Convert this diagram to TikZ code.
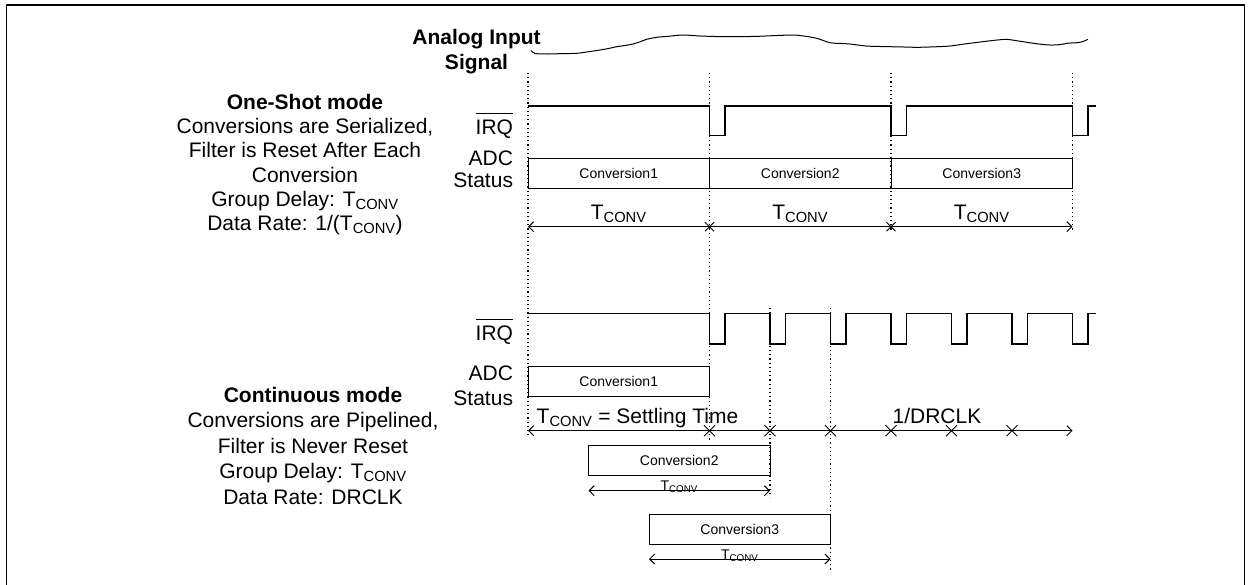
\documentclass[tikz,border=0pt]{standalone}
\usepackage{fontspec}
\setmainfont{Liberation Sans}
\usetikzlibrary{arrows.meta,shapes.misc}

\begin{document}
\begin{tikzpicture}[x=1pt, y=-1pt,
  lbl/.style={inner sep=0, outer sep=0, font=\fontsize{21}{24}\selectfont},
  small/.style={inner sep=0, outer sep=0, font=\fontsize{14}{14}\selectfont},
  conv/.style={draw, line width=1pt, inner sep=0, outer sep=0, minimum width=181.5pt, minimum height=30pt, font=\fontsize{14}{14}\selectfont},
  wave/.style={line width=1.1pt},
  guide/.style={line width=1.2pt, dash pattern=on 1.1pt off 3.1pt},
  span/.style={line width=1pt, {Straight Barb[length=5pt,width=10pt]}-{Straight Barb[length=5pt,width=10pt]}},
  tick/.style={draw, cross out, line width=0.9pt, inner sep=0, outer sep=0, minimum size=9pt}
]
  \useasboundingbox (0,0) rectangle (1251,584);
  \draw[line width=1.5pt] (6.7,600) -- (6.7,5) -- (1244.5,5) -- (1244.5,600);

  % Analog input
  \node[lbl, align=center, font=\bfseries\fontsize{21}{25.8}\selectfont] (ain) at (476.5,51.6) {Analog Input\\Signal};
  \draw[line width=1pt] plot[smooth, tension=0.5] coordinates {(531,50.5) (535,53.5) (548,54) (562,53.6) (576.7,53.3) (590,51.5) (600,50) (608,48.6) (616.7,46.7) (625,45.5) (633,44) (640,41.8) (646.7,39.3) (656.7,37.3) (668,36.3) (683.3,35) (700,36) (715,36.5) (733,36.7) (755,36.4) (775,35.6) (793,35) (805,36.2) (816.7,38.3) (830,42.7) (840,43.4) (850,44) (866,46) (880,46.5) (900,46.9) (917,47.3) (935,46.8) (950,46) (963,44.2) (978,42.3) (992,40.6) (1006,39.3) (1015,40.5) (1023,41.7) (1037,43.8) (1050,45) (1060,44.6) (1068,43.2) (1077,42.7) (1083,41.5) (1088,39.3)};

  % Dotted guides
  \foreach \x/\a/\b in {528/73/437, 709.5/73/440, 891/73/232, 1072.5/73/232, 770/308/497, 830.5/308/570}
    \draw[guide] (\x,\a) -- (\x,\b);

  % One-shot mode
  \node[lbl, align=center, font=\fontsize{21}{24.3}\selectfont] (oneshot) at (305,164.5)
    {\textbf{One-Shot mode}\\Conversions are Serialized,\\Filter is Reset After Each\\Conversion\\Group Delay: T\textsubscript{CONV}\\Data Rate: 1/(T\textsubscript{CONV})};
  \node[lbl, anchor=base east] (irqA) at (513,134.2) {IRQ};
  \draw[line width=1pt] ([yshift=6.5pt]irqA.north west) -- ([yshift=6.5pt]irqA.north east);
  \node[lbl, anchor=base east] (adcA) at (513,165.8) {ADC};
  \node[lbl, anchor=base east] (stA) at (513,187.5) {Status};

  \draw[wave] (528,106) foreach \x in {709.5,891,1072.5} { -- (\x,106) -- (\x,135.7) -- (\x+15.5,135.7) -- (\x+15.5,106) } -- (1096,106);

  \node[conv] (osc1) at (618.75,173.3) {Conversion1};
  \node[conv] (osc2) at (800.25,173.3) {Conversion2};
  \node[conv] (osc3) at (981.75,173.3) {Conversion3};

  \draw[span] (528,226.7) -- (1072.5,226.7);
  \foreach \x [count=\i] in {709.5,891}
    \node[tick] (xa\i) at (\x,226.7) {};
  \foreach \x [count=\i] in {618.75,800.25,981.75}
    \node[lbl, anchor=base] (ta\i) at (\x,219.2) {T\textsubscript{CONV}};

  % Continuous mode
  \node[lbl, align=center, font=\fontsize{21}{25.4}\selectfont] (contmode) at (313,445.7)
    {\textbf{Continuous mode}\\Conversions are Pipelined,\\Filter is Never Reset\\Group Delay: T\textsubscript{CONV}\\Data Rate: DRCLK};
  \node[lbl, anchor=base east] (irqB) at (513,340.8) {IRQ};
  \draw[line width=1pt] ([yshift=6.5pt]irqB.north west) -- ([yshift=6.5pt]irqB.north east);
  \node[lbl, anchor=base east] (adcB) at (513,380.8) {ADC};
  \node[lbl, anchor=base east] (stB) at (513,405.8) {Status};

  \draw[wave] (528,313.3) foreach \x in {709.5,770,830.5,891,951.5,1012,1072.5} { -- (\x,313.3) -- (\x,344) -- (\x+15.5,344) -- (\x+15.5,313.3) } -- (1096,313.3);

  \node[conv, minimum height=29.3pt] (cc1) at (618.75,381.35) {Conversion1};
  \node[conv] (cc2) at (679.25,460.7) {Conversion2};
  \node[conv] (cc3) at (739.75,529) {Conversion3};

  \node[lbl, anchor=base west] (settle) at (536.7,423.3) {T\textsubscript{CONV} = Settling Time};
  \node[lbl, anchor=base] (drclk) at (937,423.5) {1/DRCLK};
  \draw[span] (528,430.7) -- (1072.5,430.7);
  \foreach \x [count=\i] in {709.5,770,830.5,891,951.5,1012}
    \node[tick, minimum size=11pt] (xb\i) at (\x,430.7) {};

  \draw[span] ([yshift=-15pt]cc2.south west) -- ([yshift=-15pt]cc2.south east);
  \node[small, anchor=base] (tb2) at (679.25,490.7) {T\textsubscript{CONV}};
  \draw[span] ([yshift=-15pt]cc3.south west) -- ([yshift=-15pt]cc3.south east);
  \node[small, anchor=base] (tb3) at (739.75,559) {T\textsubscript{CONV}};
\end{tikzpicture}
\end{document}
